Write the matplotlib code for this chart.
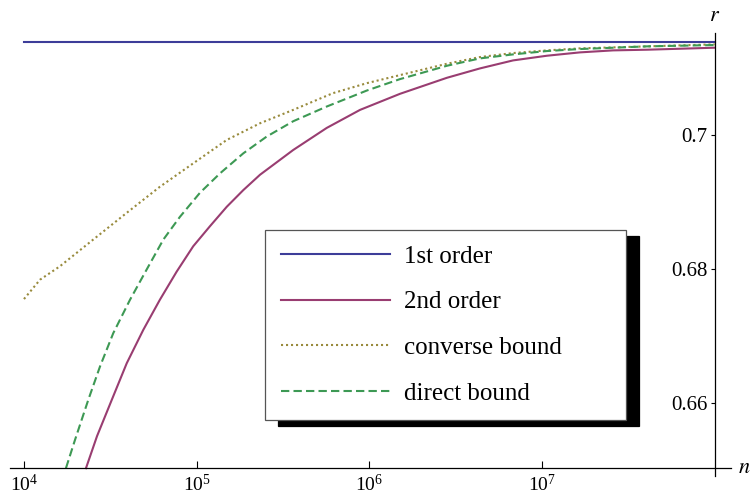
import numpy as np
import matplotlib
matplotlib.use('Agg')
import matplotlib.pyplot as plt

plt.rcParams['font.family'] = 'serif'
plt.rcParams['font.serif'] = ['Liberation Serif', 'DejaVu Serif']
plt.rcParams['mathtext.fontset'] = 'stix'

# valores (log10 n, r)
first_order_r = 0.7140

second_logn = [4.359, 4.423, 4.508, 4.595, 4.691, 4.787, 4.884, 4.980, 5.077, 5.174,
               5.270, 5.367, 5.559, 5.753, 5.946, 6.177, 6.449, 6.640, 6.832, 7.028,
               7.219, 7.411, 7.607, 8.0]
second_r = [0.6502, 0.6550, 0.6604, 0.6659, 0.6709, 0.6754, 0.6796, 0.6834, 0.6864, 0.6893,
            0.6918, 0.6941, 0.6978, 0.7011, 0.7038, 0.7062, 0.7086, 0.7100, 0.7112, 0.7119,
            0.7124, 0.7127, 0.7128, 0.7131]

converse_logn = [4.00, 4.093, 4.208, 4.401, 4.595, 4.787, 4.980, 5.174, 5.367, 5.559,
                 5.789, 5.986, 6.177, 6.449, 6.640, 6.832, 7.028, 7.219, 7.607, 8.0]
converse_r = [0.6755, 0.6784, 0.6804, 0.6844, 0.6884, 0.6923, 0.6958, 0.6993, 0.7018, 0.7038,
              0.7063, 0.7078, 0.7090, 0.7107, 0.7117, 0.7123, 0.7127, 0.7130, 0.7133, 0.7136]

direct_logn = [4.243, 4.295, 4.372, 4.440, 4.517, 4.614, 4.710, 4.807, 4.903, 5.019,
               5.135, 5.270, 5.405, 5.559, 5.753, 5.986, 6.177, 6.449, 6.640, 6.832,
               7.028, 7.219, 7.607, 8.0]
direct_r = [0.6502, 0.6544, 0.6604, 0.6654, 0.6704, 0.6754, 0.6799, 0.6844, 0.6878, 0.6914,
            0.6943, 0.6973, 0.6998, 0.7021, 0.7043, 0.7067, 0.7084, 0.7104, 0.7115, 0.7121,
            0.7126, 0.7129, 0.7133, 0.7135]

xticks = [1e4, 1e5, 1e6, 1e7]
yticks = [0.66, 0.68, 0.70]
ytick_labels = ['0.66', '0.68', '0.7']

# cores padrão do Mathematica
c_blue = '#3d3d99'
c_purple = '#993d71'
c_olive = '#998b3d'
c_green = '#3d9954'

fig = plt.figure(figsize=(7.53, 4.94), dpi=100)
W, H = 753., 494.
ax = fig.add_axes([10/W, 1 - 476/H, (731 - 10)/W, (476 - 33)/H])

ax.set_xscale('log')
ax.set_xlim(10**3.919, 10**8.094)
ax.set_ylim(0.64903, 0.7153)

lw = 1.5
ax.plot([1e4, 1e8], [first_order_r, first_order_r], color=c_blue, lw=lw, label='1st order')
ax.plot(10**np.array(second_logn), second_r, color=c_purple, lw=lw, label='2nd order')
ax.plot(10**np.array(converse_logn), converse_r, color=c_olive, lw=lw,
        dashes=(1, 1.4), label='converse bound')
ax.plot(10**np.array(direct_logn), direct_r, color=c_green, lw=lw,
        dashes=(4, 2), label='direct bound')

# eixos no estilo Mathematica
for s in ['top', 'right']:
    ax.spines[s].set_visible(False)
ax.spines['bottom'].set_position(('data', 0.6502))
ax.spines['left'].set_position(('data', 1e8))
ax.spines['bottom'].set_linewidth(0.9)
ax.spines['left'].set_linewidth(0.9)

ax.set_xticks(xticks)
ax.xaxis.set_minor_locator(matplotlib.ticker.NullLocator())
ax.tick_params(axis='x', direction='in', length=5, width=0.8, pad=4, labelsize=14)
ax.set_yticks(yticks)
ax.set_yticklabels(ytick_labels)
ax.tick_params(axis='y', direction='out', length=3, width=0.8, pad=2, labelsize=15)

ax.annotate('$r$', xy=(1e8, 1), xycoords=('data', 'axes fraction'),
            xytext=(0, 5), textcoords='offset points', ha='center', va='bottom', fontsize=16)
ax.annotate('$n$', xy=(1, 0.6502), xycoords=('axes fraction', 'data'),
            xytext=(5, 0), textcoords='offset points', ha='left', va='center', fontsize=16)

leg = ax.legend(loc='upper left', bbox_to_anchor=(265/W, 1 - 419/H, 361/W, 189/H),
                bbox_transform=fig.transFigure, borderaxespad=0, mode='expand',
                fontsize=18, frameon=True, fancybox=False, framealpha=1,
                edgecolor='#555555', handlelength=4.36, handletextpad=0.56,
                borderpad=0.62, labelspacing=0.92,
                shadow={'color': 'black', 'alpha': 1, 'ox': 9.4, 'oy': -4.3})
leg.get_frame().set_linewidth(0.9)

fig.savefig('out.png', dpi=100)
